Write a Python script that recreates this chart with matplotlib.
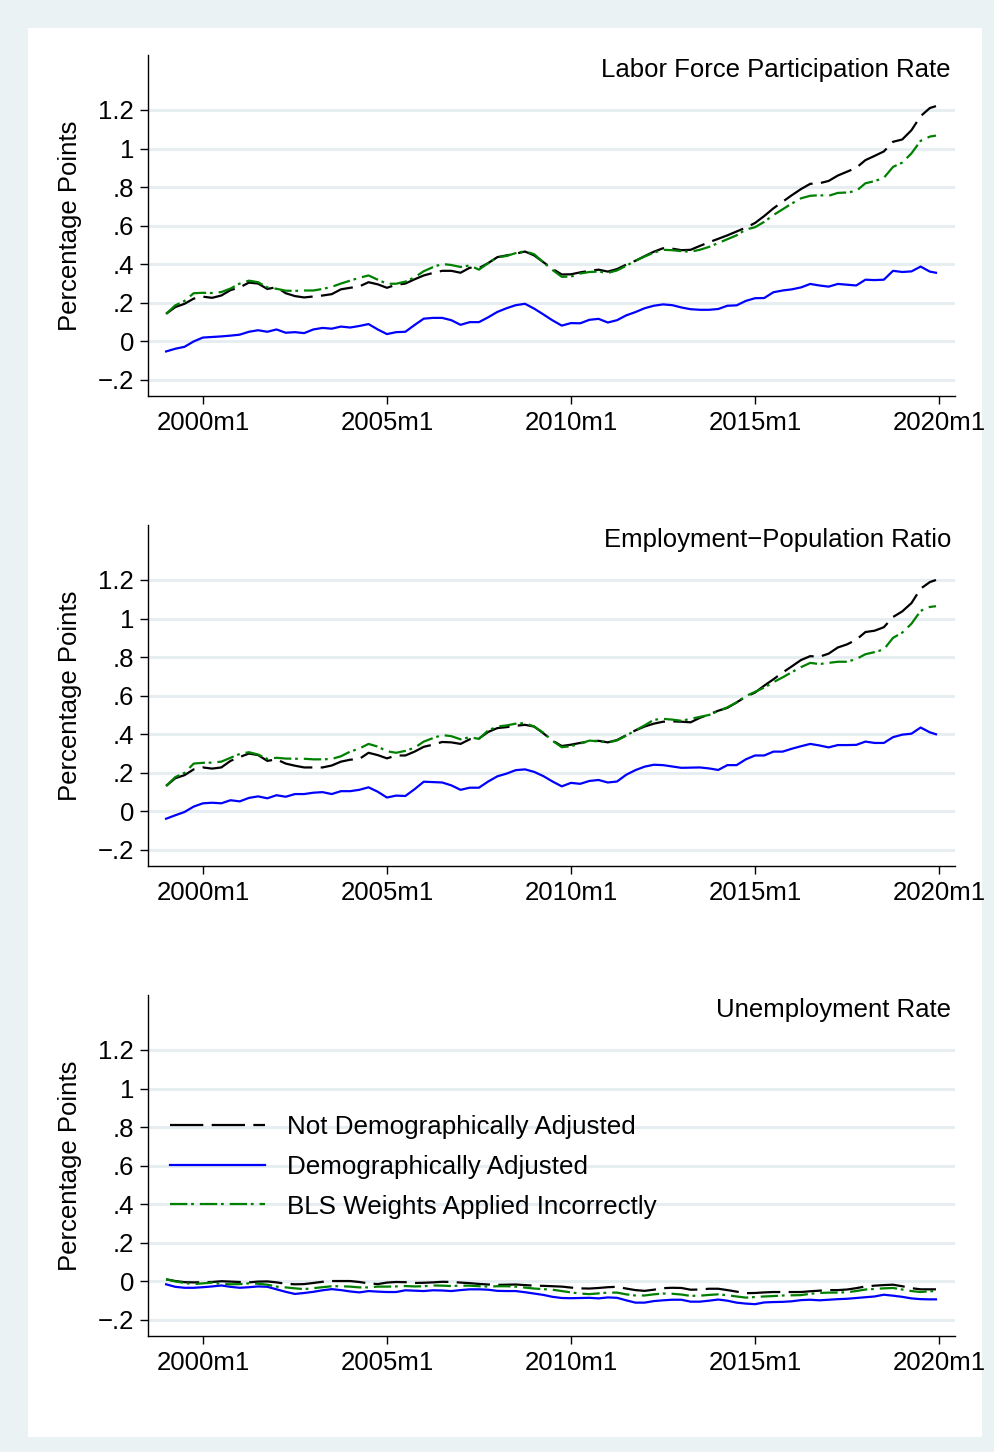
import numpy as np
import matplotlib
matplotlib.use("Agg")
import matplotlib.pyplot as plt
from matplotlib.patches import Rectangle

plt.rcParams["font.family"] = ["Liberation Sans", "DejaVu Sans"]
plt.rcParams["lines.scale_dashes"] = False

# ---------------- data ----------------
# Stata %tm month index (2000m1 = 480); quarterly samples 1999m1..2019m10, then 2019m12
MONTHS = list(range(468, 718, 3)) + [719]

TICK_MONTHS = [480, 540, 600, 660, 720]
TICK_LABELS = ["2000m1", "2005m1", "2010m1", "2015m1", "2020m1"]
Y_TICKS = [-0.2, 0, 0.2, 0.4, 0.6, 0.8, 1.0, 1.2]
Y_LABELS = ["\u2212.2", "0", ".2", ".4", ".6", ".8", "1", "1.2"]

SERIES_NAMES = ["Not Demographically Adjusted", "Demographically Adjusted",
                "BLS Weights Applied Incorrectly"]
PANEL_TITLES = ["Labor Force Participation Rate", "Employment\u2212Population Ratio",
                "Unemployment Rate"]

# Labor force participation rate
LFPR_NOT_ADJ = [
    0.143, 0.178, 0.195, 0.222, 0.232, 0.226, 0.238, 0.266, 0.280, 0.305, 0.300, 0.272,
    0.281, 0.250, 0.235, 0.228, 0.233, 0.238, 0.245, 0.270, 0.278, 0.285, 0.307, 0.296,
    0.278, 0.294, 0.300, 0.322, 0.342, 0.355, 0.366, 0.366, 0.356, 0.382, 0.380, 0.406,
    0.437, 0.446, 0.455, 0.466, 0.446, 0.411, 0.376, 0.347, 0.348, 0.358, 0.366, 0.372,
    0.362, 0.375, 0.398, 0.418, 0.442, 0.465, 0.483, 0.481, 0.473, 0.475, 0.495, 0.514,
    0.532, 0.550, 0.570, 0.590, 0.614, 0.650, 0.690, 0.724, 0.758, 0.790, 0.817, 0.820,
    0.832, 0.860, 0.880, 0.900, 0.940, 0.962, 0.985, 1.035, 1.047, 1.095, 1.168, 1.210,
    1.220,
]
LFPR_ADJ = [
    -0.052, -0.038, -0.028, 0.000, 0.020, 0.023, 0.026, 0.030, 0.035, 0.050, 0.058, 0.050,
    0.062, 0.045, 0.048, 0.043, 0.062, 0.070, 0.066, 0.077, 0.072, 0.080, 0.090, 0.062,
    0.038, 0.048, 0.050, 0.085, 0.118, 0.122, 0.122, 0.110, 0.086, 0.100, 0.100, 0.125,
    0.153, 0.172, 0.188, 0.195, 0.170, 0.140, 0.109, 0.082, 0.095, 0.094, 0.112, 0.117,
    0.098, 0.110, 0.135, 0.152, 0.172, 0.185, 0.192, 0.188, 0.176, 0.167, 0.164, 0.164,
    0.168, 0.185, 0.187, 0.210, 0.224, 0.225, 0.255, 0.264, 0.270, 0.280, 0.298, 0.290,
    0.284, 0.298, 0.294, 0.290, 0.320, 0.318, 0.320, 0.366, 0.360, 0.363, 0.388, 0.362,
    0.356,
]
LFPR_BLS = [
    0.143, 0.187, 0.210, 0.250, 0.252, 0.251, 0.256, 0.274, 0.300, 0.315, 0.307, 0.280,
    0.273, 0.263, 0.262, 0.264, 0.264, 0.272, 0.283, 0.300, 0.315, 0.330, 0.342, 0.320,
    0.299, 0.299, 0.310, 0.332, 0.364, 0.385, 0.402, 0.396, 0.386, 0.394, 0.372, 0.406,
    0.436, 0.443, 0.458, 0.468, 0.452, 0.410, 0.370, 0.335, 0.336, 0.352, 0.360, 0.362,
    0.355, 0.368, 0.392, 0.418, 0.440, 0.460, 0.475, 0.473, 0.468, 0.465, 0.475, 0.490,
    0.510, 0.530, 0.550, 0.580, 0.592, 0.620, 0.655, 0.685, 0.715, 0.742, 0.755, 0.758,
    0.755, 0.770, 0.772, 0.780, 0.820, 0.831, 0.848, 0.905, 0.927, 0.975, 1.040, 1.062,
    1.067,
]

# Employment-population ratio
EPOP_NOT_ADJ = [
    0.132, 0.172, 0.188, 0.218, 0.228, 0.222, 0.228, 0.262, 0.282, 0.300, 0.292, 0.262,
    0.270, 0.248, 0.237, 0.228, 0.228, 0.228, 0.238, 0.258, 0.268, 0.272, 0.304, 0.292,
    0.275, 0.290, 0.290, 0.310, 0.335, 0.346, 0.360, 0.358, 0.350, 0.374, 0.378, 0.412,
    0.432, 0.437, 0.444, 0.449, 0.440, 0.405, 0.367, 0.339, 0.346, 0.355, 0.363, 0.366,
    0.358, 0.370, 0.395, 0.420, 0.440, 0.455, 0.465, 0.467, 0.465, 0.462, 0.485, 0.503,
    0.522, 0.537, 0.565, 0.595, 0.616, 0.652, 0.685, 0.720, 0.752, 0.785, 0.805, 0.802,
    0.818, 0.850, 0.866, 0.890, 0.930, 0.937, 0.955, 1.008, 1.037, 1.080, 1.155, 1.189,
    1.200,
]
EPOP_ADJ = [
    -0.038, -0.020, -0.003, 0.025, 0.042, 0.045, 0.042, 0.058, 0.052, 0.070, 0.078, 0.068,
    0.084, 0.076, 0.090, 0.090, 0.097, 0.100, 0.090, 0.105, 0.105, 0.112, 0.125, 0.102,
    0.072, 0.082, 0.080, 0.115, 0.154, 0.152, 0.150, 0.135, 0.112, 0.123, 0.123, 0.155,
    0.182, 0.196, 0.214, 0.218, 0.205, 0.183, 0.155, 0.130, 0.148, 0.143, 0.158, 0.163,
    0.150, 0.155, 0.190, 0.214, 0.232, 0.242, 0.240, 0.233, 0.226, 0.227, 0.228, 0.223,
    0.215, 0.240, 0.240, 0.270, 0.290, 0.290, 0.310, 0.310, 0.325, 0.338, 0.350, 0.342,
    0.332, 0.344, 0.344, 0.345, 0.362, 0.355, 0.355, 0.385, 0.398, 0.403, 0.435, 0.410,
    0.400,
]
EPOP_BLS = [
    0.132, 0.178, 0.200, 0.248, 0.252, 0.253, 0.258, 0.278, 0.298, 0.307, 0.295, 0.272,
    0.278, 0.274, 0.273, 0.273, 0.270, 0.270, 0.272, 0.286, 0.310, 0.326, 0.350, 0.336,
    0.312, 0.304, 0.314, 0.330, 0.362, 0.380, 0.396, 0.390, 0.374, 0.385, 0.376, 0.420,
    0.440, 0.446, 0.455, 0.458, 0.440, 0.408, 0.366, 0.333, 0.338, 0.352, 0.367, 0.364,
    0.357, 0.368, 0.393, 0.420, 0.446, 0.475, 0.480, 0.476, 0.470, 0.480, 0.490, 0.500,
    0.520, 0.540, 0.565, 0.598, 0.620, 0.642, 0.670, 0.695, 0.722, 0.748, 0.770, 0.764,
    0.770, 0.776, 0.776, 0.790, 0.815, 0.826, 0.840, 0.900, 0.927, 0.973, 1.040, 1.060,
    1.064,
]

# Unemployment rate
UNEMP_NOT_ADJ = [
    0.011, 0.002, -0.004, -0.005, -0.004, -0.003, 0.001, -0.001, -0.003, -0.005, -0.001, 0.000,
    -0.005, -0.012, -0.015, -0.014, -0.008, -0.002, 0.002, 0.002, 0.002, -0.003, -0.010, -0.014,
    -0.006, -0.003, -0.004, -0.008, -0.007, -0.005, -0.002, -0.003, -0.006, -0.009, -0.013, -0.016,
    -0.018, -0.017, -0.016, -0.019, -0.022, -0.023, -0.025, -0.027, -0.032, -0.036, -0.037, -0.034,
    -0.030, -0.028, -0.037, -0.045, -0.049, -0.043, -0.035, -0.033, -0.034, -0.043, -0.042, -0.038,
    -0.038, -0.045, -0.053, -0.061, -0.060, -0.057, -0.055, -0.055, -0.055, -0.055, -0.051, -0.048,
    -0.045, -0.045, -0.042, -0.035, -0.026, -0.022, -0.019, -0.017, -0.025, -0.035, -0.041, -0.041,
    -0.041,
]
UNEMP_ADJ = [
    -0.015, -0.028, -0.033, -0.033, -0.030, -0.026, -0.021, -0.028, -0.033, -0.030, -0.026, -0.028,
    -0.041, -0.054, -0.065, -0.060, -0.054, -0.046, -0.040, -0.045, -0.052, -0.057, -0.050, -0.053,
    -0.055, -0.055, -0.046, -0.048, -0.050, -0.046, -0.047, -0.050, -0.045, -0.041, -0.041, -0.043,
    -0.049, -0.050, -0.050, -0.056, -0.063, -0.070, -0.080, -0.086, -0.087, -0.086, -0.085, -0.088,
    -0.083, -0.085, -0.098, -0.110, -0.110, -0.102, -0.098, -0.095, -0.095, -0.105, -0.105, -0.100,
    -0.094, -0.100, -0.110, -0.115, -0.118, -0.109, -0.107, -0.106, -0.103, -0.097, -0.095, -0.098,
    -0.095, -0.092, -0.090, -0.086, -0.082, -0.078, -0.069, -0.074, -0.080, -0.088, -0.092, -0.093,
    -0.093,
]
UNEMP_BLS = [
    0.011, 0.000, -0.008, -0.014, -0.010, -0.006, -0.013, -0.015, -0.014, -0.010, -0.012, -0.017,
    -0.027, -0.031, -0.036, -0.040, -0.035, -0.030, -0.025, -0.025, -0.027, -0.031, -0.031, -0.027,
    -0.027, -0.026, -0.024, -0.026, -0.025, -0.021, -0.022, -0.024, -0.022, -0.022, -0.025, -0.027,
    -0.025, -0.025, -0.027, -0.032, -0.037, -0.040, -0.043, -0.050, -0.057, -0.063, -0.066, -0.062,
    -0.058, -0.058, -0.067, -0.073, -0.073, -0.067, -0.063, -0.064, -0.068, -0.075, -0.074, -0.070,
    -0.067, -0.072, -0.078, -0.084, -0.081, -0.078, -0.076, -0.073, -0.072, -0.071, -0.064, -0.060,
    -0.058, -0.058, -0.056, -0.050, -0.042, -0.039, -0.036, -0.034, -0.042, -0.050, -0.055, -0.051,
    -0.050,
]

PANELS = [
    (LFPR_NOT_ADJ, LFPR_ADJ, LFPR_BLS),
    (EPOP_NOT_ADJ, EPOP_ADJ, EPOP_BLS),
    (UNEMP_NOT_ADJ, UNEMP_ADJ, UNEMP_BLS),
]

# ---------------- style ----------------
W, H = 995, 1452
BG = "#EAF2F3"
GRID = "#E6EEF1"
FS = 18.5
LINE_STYLES = [
    dict(color="black", dashes=(24, 6)),
    dict(color="#0000FF", linestyle="-"),
    dict(color="#008000", dashes=(12.5, 2.7, 2, 4.3)),
]
PANEL_TOPS = [55, 525, 995]   # pixel rows of axis tops
AX_LEFT, AX_RIGHT, AX_H = 148, 955, 341


def style_axis(ax, title):
    ax.set_xlim(462.1, 725.2)
    ax.set_ylim(-0.283, 1.485)
    for side in ("top", "right"):
        ax.spines[side].set_visible(False)
    for side in ("left", "bottom"):
        ax.spines[side].set_linewidth(1.0)
    ax.set_yticks(Y_TICKS)
    ax.set_yticklabels(Y_LABELS)
    ax.set_xticks(TICK_MONTHS)
    ax.set_xticklabels(TICK_LABELS)
    ax.tick_params(axis="both", length=6, width=1.0, labelsize=FS, direction="out")
    ax.tick_params(axis="y", pad=4)
    ax.tick_params(axis="x", pad=5)
    ax.grid(axis="y", color=GRID, linewidth=2.2)
    ax.set_axisbelow(True)
    ax.set_ylabel("Percentage Points", fontsize=FS)
    ax.yaxis.set_label_coords(-0.082, 0.5)
    ax.text(0.995, 0.956, title, transform=ax.transAxes, ha="right", va="center",
            fontsize=FS)


def main():
    fig = plt.figure(figsize=(W / 100, H / 100), dpi=100, facecolor=BG)
    # white plot region inside the light outer margin
    fig.patches.append(Rectangle((28 / W, 1 - 1437 / H), (982 - 28) / W, (1437 - 28) / H,
                                 transform=fig.transFigure, facecolor="white",
                                 edgecolor="none", zorder=-10))

    months = np.array(MONTHS)
    for top, series, title in zip(PANEL_TOPS, PANELS, PANEL_TITLES):
        rect = [AX_LEFT / W, 1 - (top + AX_H) / H, (AX_RIGHT - AX_LEFT) / W, AX_H / H]
        ax = fig.add_axes(rect)
        ax.set_facecolor("white")
        lines = []
        for vals, name, st in zip(series, SERIES_NAMES, LINE_STYLES):
            assert len(vals) == len(months)
            ln, = ax.plot(months, vals, linewidth=1.6, label=name, **st)
            lines.append(ln)
        style_axis(ax, title)

    # legend sits in the unemployment panel
    ax.legend(handles=lines, loc="upper left", bbox_to_anchor=(0.027, 0.647),
              frameon=False, fontsize=18.7, handlelength=3.65, handletextpad=0.88,
              borderpad=0, borderaxespad=0, labelspacing=0.6)

    fig.savefig("out.png", dpi=100, facecolor=BG)


if __name__ == "__main__":
    main()
